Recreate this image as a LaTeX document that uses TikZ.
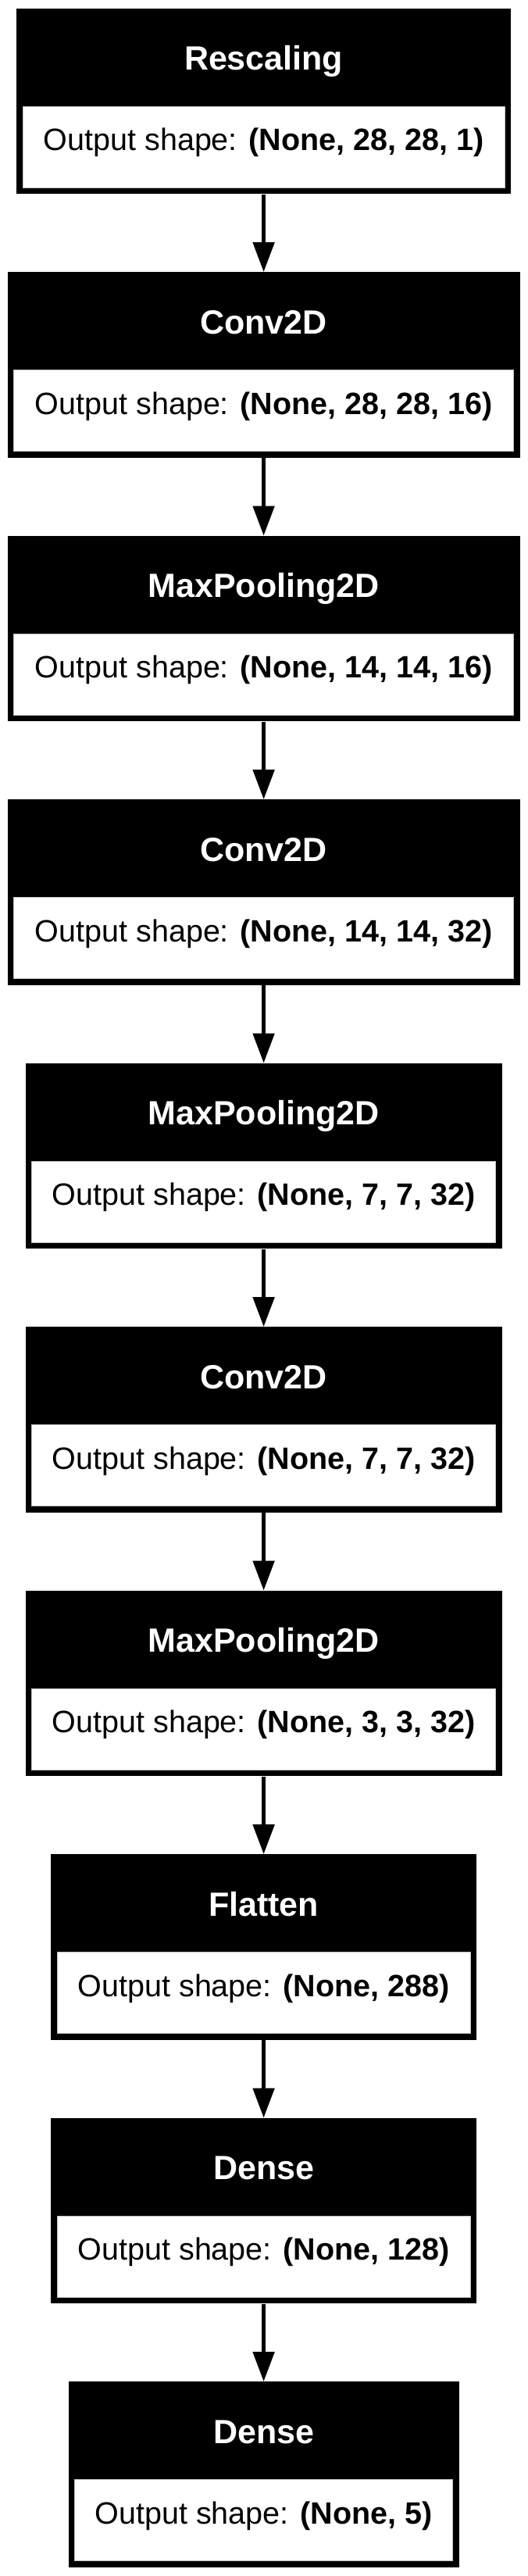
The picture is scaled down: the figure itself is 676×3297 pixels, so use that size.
\documentclass[tikz,border=0pt]{standalone}
\usepackage{fontspec}
\setmainfont{Liberation Sans}
\usetikzlibrary{arrows.meta}
\tikzstyle{layer}=[rectangle, fill=black, minimum height=237.6pt, inner sep=0pt, anchor=north]
\tikzstyle{layer_name}=[text=white, anchor=base, inner sep=0pt, font=\bfseries\fontsize{43}{50}\selectfont]
\tikzstyle{out_shape}=[rectangle, fill=white, draw=black!25!white, line width=0.8pt, minimum height=104pt, inner sep=0pt, anchor=south, text height=0.905em, text depth=0pt, font=\fontsize{39.5}{47}\selectfont]
\tikzstyle{flow}=[line width=5pt, -{Triangle[length=38pt,width=27pt]}]
\begin{document}
\begin{tikzpicture}[x=1pt, y=1pt]
    \path[use as bounding box, fill=white] (0,0) rectangle (676,-3297);

    \node (rescaling) at (337.6, -10.6) [layer, minimum width=633pt] {};
    \node (conv1) at (337.6, -348.1) [layer, minimum width=656pt] {};
    \node (pool1) at (337.6, -685.6) [layer, minimum width=656pt] {};
    \node (conv2) at (337.6, -1023.1) [layer, minimum width=656pt] {};
    \node (pool2) at (337.6, -1360.6) [layer, minimum width=610pt] {};
    \node (conv3) at (337.6, -1698.1) [layer, minimum width=610pt] {};
    \node (pool3) at (337.6, -2035.6) [layer, minimum width=610pt] {};
    \node (flatten) at (337.6, -2373.1) [layer, minimum width=545pt] {};
    \node (dense1) at (337.6, -2710.6) [layer, minimum width=545pt] {};
    \node (dense2) at (337.6, -3048.1) [layer, minimum width=500pt] {};

    \node (rescaling_name) at ([yshift=-79]rescaling.north) [layer_name] {Rescaling};
    \node (conv1_name) at ([yshift=-79]conv1.north) [layer_name] {Conv2D};
    \node (pool1_name) at ([yshift=-79]pool1.north) [layer_name] {MaxPooling2D};
    \node (conv2_name) at ([yshift=-79]conv2.north) [layer_name] {Conv2D};
    \node (pool2_name) at ([yshift=-79]pool2.north) [layer_name] {MaxPooling2D};
    \node (conv3_name) at ([yshift=-79]conv3.north) [layer_name] {Conv2D};
    \node (pool3_name) at ([yshift=-79]pool3.north) [layer_name] {MaxPooling2D};
    \node (flatten_name) at ([yshift=-79]flatten.north) [layer_name] {Flatten};
    \node (dense1_name) at ([yshift=-79]dense1.north) [layer_name] {Dense};
    \node (dense2_name) at ([yshift=-79]dense2.north) [layer_name] {Dense};

    \node (rescaling_out) at ([yshift=8]rescaling.south) [out_shape, minimum width=617pt] {Output shape: \textbf{(None, 28, 28, 1)}};
    \node (conv1_out) at ([yshift=8]conv1.south) [out_shape, minimum width=640pt] {Output shape: \textbf{(None, 28, 28, 16)}};
    \node (pool1_out) at ([yshift=8]pool1.south) [out_shape, minimum width=640pt] {Output shape: \textbf{(None, 14, 14, 16)}};
    \node (conv2_out) at ([yshift=8]conv2.south) [out_shape, minimum width=640pt] {Output shape: \textbf{(None, 14, 14, 32)}};
    \node (pool2_out) at ([yshift=8]pool2.south) [out_shape, minimum width=594pt] {Output shape: \textbf{(None, 7, 7, 32)}};
    \node (conv3_out) at ([yshift=8]conv3.south) [out_shape, minimum width=594pt] {Output shape: \textbf{(None, 7, 7, 32)}};
    \node (pool3_out) at ([yshift=8]pool3.south) [out_shape, minimum width=594pt] {Output shape: \textbf{(None, 3, 3, 32)}};
    \node (flatten_out) at ([yshift=8]flatten.south) [out_shape, minimum width=529pt] {Output shape: \textbf{(None, 288)}};
    \node (dense1_out) at ([yshift=8]dense1.south) [out_shape, minimum width=529pt] {Output shape: \textbf{(None, 128)}};
    \node (dense2_out) at ([yshift=8]dense2.south) [out_shape, minimum width=484pt] {Output shape: \textbf{(None, 5)}};

    \draw (rescaling) -- (conv1) [flow];
    \draw (conv1) -- (pool1) [flow];
    \draw (pool1) -- (conv2) [flow];
    \draw (conv2) -- (pool2) [flow];
    \draw (pool2) -- (conv3) [flow];
    \draw (conv3) -- (pool3) [flow];
    \draw (pool3) -- (flatten) [flow];
    \draw (flatten) -- (dense1) [flow];
    \draw (dense1) -- (dense2) [flow];
\end{tikzpicture}
\end{document}
